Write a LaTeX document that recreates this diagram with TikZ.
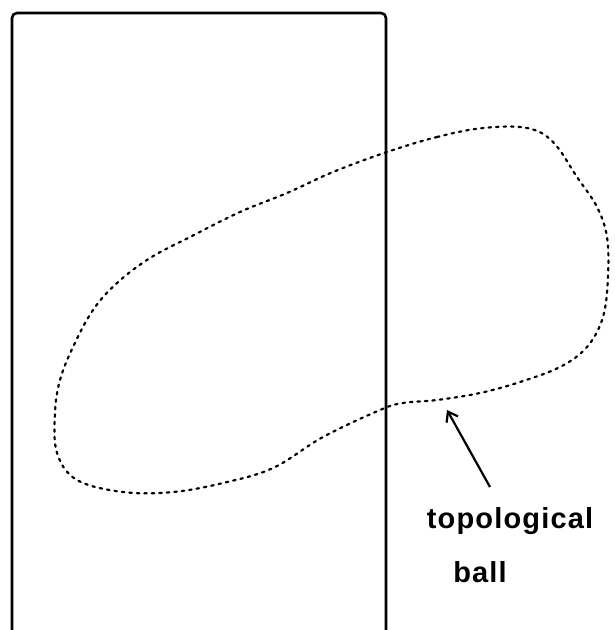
\documentclass[tikz,border=0pt]{standalone}
\usepackage{fontspec}
\setmainfont{Liberation Sans}
\newfontfamily\handfont[LetterSpace=4]{Liberation Sans}
\usetikzlibrary{arrows.meta}
\begin{document}
\begin{tikzpicture}[x=1pt,y=-1pt,
  frame/.style={line width=2.6pt,rounded corners=5pt},
  blob/.style={line width=2.2pt,dash pattern=on 2.5pt off 5pt,line cap=round},
  lbl/.style={font=\handfont\bfseries\fontsize{29}{34}\selectfont,inner sep=0pt,anchor=base},
  pointer/.style={line width=2.2pt,-{Straight Barb[length=9pt,width=13pt]}}]
\useasboundingbox (0,0) rectangle (615,630);
\draw[frame] (12,634) -- (12,13) -- (386,13) -- (386,634);
\draw[blob] plot[smooth cycle,tension=0.6] coordinates {
 (387,152) (437,137) (483,128) (527,128) (553,142) (577,177) (597,207)
 (607,237) (608,277) (603,317) (587,347) (560,367) (520,382) (480,393)
 (437,400) (403,403) (380,410) (323,437) (273,468) (223,483) (173,492)
 (123,492) (77,480) (57,453) (55,413) (60,380) (73,347) (93,310)
 (117,283) (150,258) (190,237) (240,212) (287,193) (333,172)};
\node[lbl] (topo) at (510,528) {topological};
\node[lbl] (ball) at (480,582) {ball};
\coordinate (tip) at (447,410);
\coordinate (tail) at (490,487);
\draw[pointer] (tail) -- (tip);
\end{tikzpicture}
\end{document}
